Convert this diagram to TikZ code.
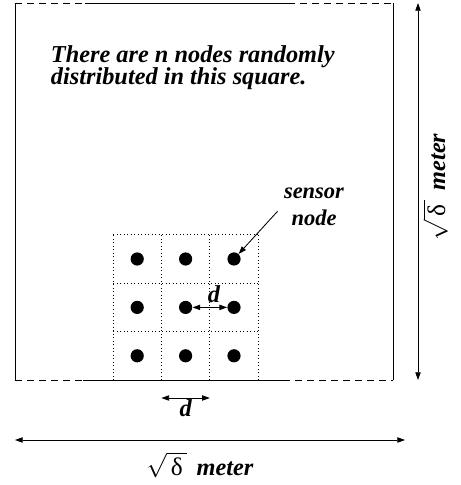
\documentclass[tikz,border=0pt]{standalone}
\usepackage{fontspec}
\setmainfont{Liberation Serif}
\usetikzlibrary{arrows.meta,positioning}
\newcommand{\SqrtDelta}{$\sqrt{\,\mbox{\normalfont\upshape\fontsize{18}{18}\selectfont δ}\,}$}

\begin{document}
\begin{tikzpicture}[
  font=\bfseries\itshape\fontsize{17.3}{15.8}\selectfont,
  border/.style={line width=0.6pt},
  brokenborder/.style={border,dash pattern=on 5pt off 3.5pt},
  sensordot/.style={circle,fill=black,inner sep=0pt,minimum size=0.33cm},
  dimline/.style={line width=0.6pt,
    {Triangle[length=5.5pt,width=3.8pt]}-{Triangle[length=5.5pt,width=3.8pt]}},
  pointer/.style={line width=0.6pt,-{Triangle[length=5.5pt,width=3.8pt]}},
]
  \useasboundingbox (0,0) rectangle (11.525,12.125);

  % the square field
  \draw[border] (0.375,2.625) -- (0.375,12.05);
  \draw[border] (9.825,2.625) -- (9.825,12.05);
  \draw[brokenborder] (0.375,12.05) -- (2.125,12.05);
  \draw[border] (2.125,12.05) -- (7.2,12.05);
  \draw[brokenborder] (7.2,12.05) -- (9.825,12.05);
  \draw[brokenborder] (0.375,2.625) -- (2.075,2.625);
  \draw[border] (2.075,2.625) -- (7.075,2.625);
  \draw[brokenborder] (7.075,2.625) -- (9.825,2.625);

  \node[anchor=north west,align=left] (caption) at (1.15,11.12)
    {There are n nodes randomly\\distributed in this square.};

  % grid of cells with one node each
  \draw[dotted,line width=0.5pt,shift={(2.825,2.625)}] (0,0) grid[step=1.21] (3.64,3.64);
  \foreach \col in {1,2,3}
    \foreach \row in {1,2,3}
      \node[sensordot] (n\col\row) at (2.825+1.21*\col-0.605,2.625+1.21*\row-0.605) {};

  \draw[dimline] (n22) -- node[above,xshift=3pt,inner sep=3pt] (dmid) {d} (n32);

  \node[align=center,font=\bfseries\itshape\fontsize{16}{19}\selectfont] (sensorlbl) at (7.85,6.95) {sensor\\node};
  \draw[pointer] ([xshift=-1pt,yshift=-3pt]sensorlbl.west) -- (n33);

  % dimensions
  \coordinate (dleft) at (4.035,2.175);
  \coordinate (dright) at (5.245,2.175);
  \draw[dimline] (dleft) -- node[below,inner sep=1pt] (dlow) {d} (dright);

  \coordinate (sidel) at (0.375,1.125);
  \coordinate (sider) at (10.125,1.125);
  \draw[dimline] (sidel) -- (sider);
  \node (hlabel) at (5.0,0.5) {\SqrtDelta\hspace{0.4em}meter};

  \coordinate (sidet) at (10.45,12.05);
  \coordinate (sideb) at (10.45,2.625);
  \draw[dimline] (sidet) -- (sideb);
  \node[rotate=90] (vlabel) at (10.88,7.45) {\SqrtDelta\hspace{0.4em}meter};
\end{tikzpicture}
\end{document}
